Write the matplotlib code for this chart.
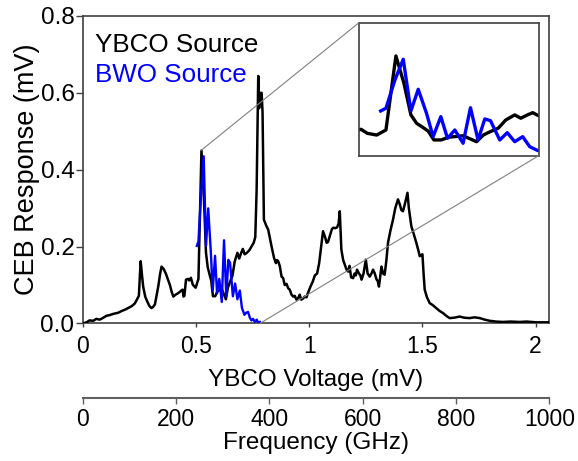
import matplotlib
matplotlib.use('Agg')
import matplotlib.pyplot as plt
from matplotlib.patches import ConnectionPatch

plt.rcParams['font.family'] = ['Liberation Sans', 'DejaVu Sans']

# YBCO source response vs YBCO voltage (mV)
ybco_v = [0.0, 0.017, 0.03, 0.047, 0.06, 0.075, 0.091, 0.105, 0.12, 0.135, 0.157, 0.17, 0.187, 0.2,
          0.216, 0.23, 0.24, 0.248, 0.252, 0.256, 0.261, 0.267, 0.276, 0.285, 0.295, 0.304, 0.312,
          0.319, 0.327, 0.334, 0.342, 0.348, 0.357, 0.367, 0.376, 0.385, 0.393, 0.40, 0.41, 0.422,
          0.432, 0.441, 0.445, 0.449, 0.456, 0.465, 0.47, 0.4777, 0.486, 0.4986, 0.511, 0.5243,
          0.535, 0.5443, 0.552, 0.561, 0.5674, 0.575, 0.585, 0.594, 0.603, 0.614, 0.622, 0.632,
          0.641, 0.650, 0.661, 0.671, 0.683, 0.691, 0.700, 0.707, 0.715, 0.723, 0.735, 0.745,
          0.755, 0.762, 0.768, 0.775, 0.779, 0.784, 0.79, 0.794, 0.80, 0.81, 0.819, 0.827, 0.834,
          0.845, 0.853, 0.858, 0.863, 0.870, 0.878, 0.885, 0.892, 0.9, 0.907, 0.914, 0.922, 0.929,
          0.936, 0.944, 0.951, 0.958, 0.965, 0.973, 0.98, 0.988, 0.995, 1.005, 1.015, 1.025, 1.035,
          1.044, 1.053, 1.061, 1.07, 1.077, 1.083, 1.092, 1.1, 1.106, 1.115, 1.123, 1.13, 1.135,
          1.142, 1.15, 1.157, 1.165, 1.172, 1.178, 1.185, 1.194, 1.2, 1.206, 1.211, 1.22, 1.226,
          1.231, 1.24, 1.25, 1.258, 1.267, 1.275, 1.282, 1.289, 1.297, 1.303, 1.308, 1.313, 1.319,
          1.326, 1.333, 1.34, 1.348, 1.358, 1.37, 1.38, 1.392, 1.40, 1.407, 1.414, 1.422, 1.428,
          1.434, 1.44, 1.451, 1.462, 1.473, 1.482, 1.488, 1.494, 1.5, 1.505, 1.51, 1.52, 1.532,
          1.545, 1.561, 1.575, 1.591, 1.605, 1.62, 1.64, 1.664, 1.685, 1.708, 1.73, 1.753, 1.775,
          1.797, 1.825, 1.855, 1.89, 1.929, 1.96, 2.003, 2.06]
ybco_r = [0.0, 0.003, 0.008, 0.007, 0.012, 0.010, 0.015, 0.02, 0.022, 0.025, 0.028, 0.032, 0.036, 0.04,
          0.045, 0.052, 0.063, 0.072, 0.12, 0.162, 0.13, 0.096, 0.07, 0.057, 0.045, 0.040, 0.044,
          0.05, 0.075, 0.098, 0.13, 0.148, 0.142, 0.13, 0.115, 0.1, 0.082, 0.07, 0.075, 0.079,
          0.084, 0.088, 0.07, 0.072, 0.114, 0.116, 0.112, 0.119, 0.101, 0.093, 0.116, 0.450,
          0.327, 0.184, 0.146, 0.126, 0.111, 0.071, 0.071, 0.083, 0.086, 0.090, 0.078, 0.063,
          0.093, 0.108, 0.124, 0.161, 0.184, 0.169, 0.184, 0.194, 0.18, 0.183, 0.19, 0.2,
          0.21, 0.225, 0.35, 0.644, 0.56, 0.60, 0.60, 0.55, 0.27, 0.255, 0.244, 0.22, 0.2,
          0.17, 0.157, 0.165, 0.162, 0.15, 0.122, 0.118, 0.1, 0.103, 0.092, 0.088, 0.075, 0.07,
          0.072, 0.062, 0.066, 0.075, 0.062, 0.065, 0.07, 0.068, 0.08, 0.095, 0.108, 0.125, 0.13,
          0.157, 0.2, 0.24, 0.225, 0.21, 0.212, 0.23, 0.245, 0.249, 0.248, 0.25, 0.26, 0.292,
          0.192, 0.165, 0.153, 0.14, 0.135, 0.15, 0.12, 0.118, 0.13, 0.125, 0.14, 0.13, 0.125,
          0.114, 0.13, 0.166, 0.13, 0.122, 0.13, 0.14, 0.131, 0.115, 0.11, 0.096, 0.12, 0.148,
          0.13, 0.127, 0.16, 0.21, 0.24, 0.27, 0.3, 0.323, 0.31, 0.295, 0.292, 0.31, 0.325,
          0.34, 0.3, 0.253, 0.232, 0.21, 0.19, 0.175, 0.178, 0.18, 0.13, 0.088, 0.068, 0.053,
          0.048, 0.04, 0.033, 0.027, 0.02, 0.014, 0.015, 0.018, 0.015, 0.014, 0.016, 0.014, 0.01,
          0.007, 0.005, 0.004, 0.005, 0.004, 0.005, 0.003, 0.003]

# BWO source response
bwo_v = [0.5039, 0.511, 0.523, 0.5341, 0.5443, 0.5541, 0.5652, 0.574, 0.5843, 0.5932, 0.603, 0.614,
         0.6239, 0.634, 0.643, 0.6506, 0.663, 0.673, 0.683, 0.6936, 0.703, 0.714, 0.722, 0.73,
         0.738, 0.745, 0.752, 0.76, 0.768, 0.775, 0.782]
bwo_r = [0.2017, 0.214, 0.3415, 0.435, 0.2017, 0.2995, 0.191, 0.0857, 0.176, 0.0785, 0.116, 0.056,
         0.2165, 0.0708, 0.1656, 0.158, 0.0708, 0.1038, 0.063, 0.0857, 0.0406, 0.0226, 0.028, 0.03,
         0.015, 0.008, 0.012, 0.004, 0.01, 0.002, 0.004]

x_ticks = [0, 0.5, 1, 1.5, 2]
x_tick_labels = ['0', '0.5', '1', '1.5', '2']
y_ticks = [0.0, 0.2, 0.4, 0.6, 0.8]
freq_ticks = [0, 200, 400, 600, 800, 1000]

inset_xlim = (0.475, 0.715)
inset_ylim = (0.0, 0.6)
zoom_start = (0.522, 0.45)   # where the connector lines leave the main curve
zoom_end = (0.782, 0.0)

fig = plt.figure(figsize=(5.78, 4.61), dpi=100)
ax = fig.add_axes([0.1431, 0.2983, 0.8072, 0.6670])

ax.plot(ybco_v, ybco_r, color='black', lw=1.8, zorder=3)
ax.plot(bwo_v, bwo_r, color='#0000ff', lw=1.7, zorder=4)

ax.set_xlim(0, 2.06)
ax.set_ylim(0, 0.8)
ax.set_xticks(x_ticks)
ax.set_xticklabels(x_tick_labels)
ax.set_yticks(y_ticks)
ax.set_yticklabels(['%.1f' % y for y in y_ticks])
ax.tick_params(axis='x', labelsize=16.5, length=3, width=1, color='#404040', pad=5)
ax.tick_params(axis='y', labelsize=17.5, length=5, width=1, color='#404040', pad=1)
for s in ax.spines.values():
    s.set_color('#404040')
    s.set_linewidth(1.2)
ax.set_xlabel('YBCO Voltage (mV)', fontsize=17.5, labelpad=8)
ax.set_ylabel('CEB Response (mV)', fontsize=19.5, labelpad=0)

ax.text(0.026, 0.906, 'YBCO Source', transform=ax.transAxes, fontsize=18.7,
        color='black', va='center', ha='left')
ax.text(0.026, 0.808, 'BWO Source', transform=ax.transAxes, fontsize=18.7,
        color='#0000ff', va='center', ha='left')

# inset zoom of the first peak
axin = fig.add_axes([0.6211, 0.6623, 0.3109, 0.2885])
axin.plot(ybco_v, ybco_r, color='black', lw=2.4)
axin.plot(bwo_v, bwo_r, color='#0000ff', lw=2.4)
axin.set_xlim(*inset_xlim)
axin.set_ylim(*inset_ylim)
axin.set_xticks([])
axin.set_yticks([])
for s in axin.spines.values():
    s.set_color('#404040')
    s.set_linewidth(1.2)

for pa, pb in [(zoom_start, (0, 1)), (zoom_end, (1, 0))]:
    con = ConnectionPatch(xyA=pa, coordsA=ax.transData, xyB=pb, coordsB=axin.transAxes,
                          color='#808080', lw=0.8)
    fig.add_artist(con)

# frequency scale below
axf = fig.add_axes([0.1431, 0.136, 0.8072, 0.0001])
axf.set_xlim(0, 1000)
axf.set_xticks(freq_ticks)
axf.set_yticks([])
axf.patch.set_alpha(0)
for k in ['top', 'left', 'right']:
    axf.spines[k].set_visible(False)
axf.spines['bottom'].set_color('#606060')
axf.spines['bottom'].set_linewidth(1.5)
axf.tick_params(axis='x', labelsize=16.5, length=4, width=1, color='#606060', pad=3)
axf.set_xlabel('Frequency (GHz)', fontsize=17.5, labelpad=1)

fig.savefig('out.png', dpi=100)
